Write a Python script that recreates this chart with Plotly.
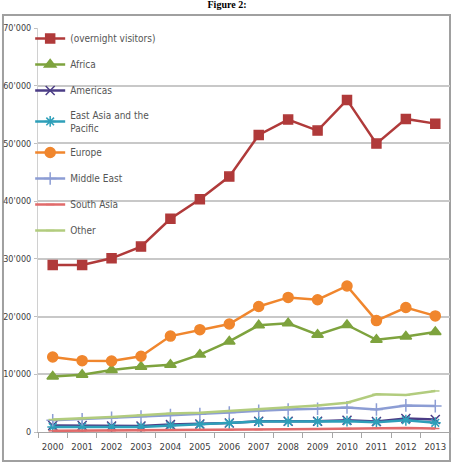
import plotly.graph_objects as go

years = [str(y) for y in range(2000, 2014)]

overnight = [28940, 28940, 30090, 32120, 36940, 40330, 44250, 51470, 54130, 52220, 57540, 49970, 54250, 53430]
africa = [9620, 9910, 10730, 11310, 11660, 13410, 15690, 18480, 18830, 16850, 18540, 15980, 16560, 17320]
americas = [1110, 1110, 1050, 1050, 1280, 1400, 1570, 1870, 1870, 1870, 2040, 1810, 2330, 2160]
east_asia = [875, 930, 875, 875, 1110, 1280, 1520, 1810, 1810, 1810, 1870, 1690, 2040, 1600]
europe = [13000, 12360, 12300, 13120, 16620, 17730, 18720, 21750, 23320, 22920, 25300, 19300, 21570, 20120]
middle_east = [2040, 2220, 2450, 2680, 2920, 3090, 3380, 3670, 3910, 4020, 4260, 3910, 4610, 4490]
south_asia = [200, 220, 240, 260, 300, 330, 380, 430, 480, 520, 600, 650, 700, 600]
other = [2160, 2330, 2620, 2920, 3210, 3320, 3620, 3910, 4260, 4610, 5070, 6530, 6410, 7110]

series_names = ["(overnight visitors)", "Africa", "Americas", "East Asia and the<br>Pacific",
                "Europe", "Middle East", "South Asia", "Other"]

y_tickvals = [0, 10000, 20000, 30000, 40000, 50000, 60000, 70000]
y_ticktext = ["0", "10'000", "20'000", "30'000", "40'000", "50'000", "60'000", "70'000"]

styles = [
    dict(color="#b03a3a", symbol="square", size=9),
    dict(color="#7ea33e", symbol="triangle-up", size=10),
    dict(color="#4b3d86", symbol="x-thin-open", size=9),
    dict(color="#2e9fb9", symbol="asterisk-open", size=9),
    dict(color="#f0862d", symbol="circle", size=10),
    dict(color="#8c9dd4", symbol="cross-thin-open", size=9),
    dict(color="#e06a6a", symbol="line-ew-open", size=6),
    dict(color="#b2cc7e", symbol="line-ew-open", size=6),
]

data = [overnight, africa, americas, east_asia, europe, middle_east, south_asia, other]

fig = go.Figure()
for i, (name, vals, st) in enumerate(zip(series_names, data, styles)):
    fig.add_trace(go.Scatter(
        x=years, y=vals, name=name, mode="lines+markers",
        legendgroup=f"g{i}",
        line=dict(color=st["color"], width=2.5),
        marker=dict(symbol=st["symbol"], size=st["size"], color=st["color"],
                    line=dict(color=st["color"], width=1.5)),
    ))

fig.update_layout(
    width=454, height=467,
    margin=dict(l=38, r=4, t=28, b=35, autoexpand=False),
    paper_bgcolor="white", plot_bgcolor="white",
    font=dict(family="Liberation Sans Narrow, DejaVu Sans Condensed, Liberation Sans, sans-serif",
              size=10, color="#404040"),
    title=dict(text="<b>Figure 2:</b>", x=0.5, xanchor="center", y=1 - 4 / 467, yanchor="middle",
               yref="container", pad=dict(t=0, b=0),
               font=dict(family="Liberation Serif, serif", size=10, color="#000000")),
    showlegend=True,
    legend=dict(x=-0.019, y=1.01, xanchor="left", yanchor="top",
                bgcolor="rgba(0,0,0,0)", tracegroupgap=7,
                font=dict(size=10, color="#555555"), itemwidth=30),
    xaxis=dict(type="category", tickson="boundaries", ticks="outside", ticklen=5,
               tickcolor="#a6a6a6", showline=True, linecolor="#a6a6a6", linewidth=1,
               showgrid=False, tickangle=0, automargin=False, ticklabelstandoff=6,
               tickfont=dict(size=9.5, color="#404040"),
               range=[-0.5, 13.5]),
    yaxis=dict(range=[0, 70000], tickvals=y_tickvals, ticktext=y_ticktext,
               ticks="outside", ticklen=3, tickcolor="#c0c0c0", automargin=False,
               ticklabelstandoff=1,
               showgrid=True, gridcolor="#c8c8c8", gridwidth=1.5,
               showline=True, linecolor="#d0d0d0", linewidth=1,
               zeroline=False, tickfont=dict(size=9, color="#404040")),
    shapes=[dict(type="rect", xref="paper", yref="paper",
                 x0=-0.085, x1=1.0, y0=-0.072, y1=1.032,
                 line=dict(color="#a0a0a0", width=2), fillcolor="rgba(0,0,0,0)", layer="below")],
)

fig.write_html("out.html", config={"displayModeBar": False},
               post_script="document.body.style.margin='0';")
